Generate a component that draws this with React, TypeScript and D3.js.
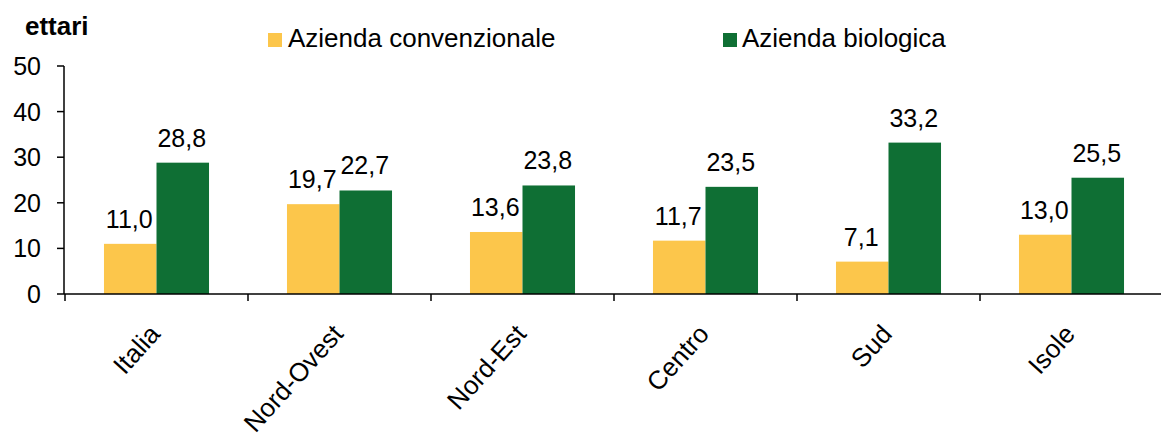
import React from 'react'
import * as d3 from 'd3'

const categories = ['Italia', 'Nord-Ovest', 'Nord-Est', 'Centro', 'Sud', 'Isole']
const seriesNames = ['Azienda convenzionale', 'Azienda biologica']
const convenzionale = [11.0, 19.7, 13.6, 11.7, 7.1, 13.0]
const biologica = [28.8, 22.7, 23.8, 23.5, 33.2, 25.5]
const yTicks = [0, 10, 20, 30, 40, 50]

const colors = ['#FCC64B', '#0F6F34']
const W = 1161
const H = 435
const font = '"Liberation Sans", Arial, sans-serif'

export default function App() {
  const x = d3.scaleBand<string>().domain(categories).range([65, 65 + 183 * 6])
    .paddingInner(0.426).paddingOuter(0.213)
  const xs = d3.scaleBand<string>().domain(seriesNames).range([0, x.bandwidth()])
  const y = d3.scaleLinear().domain([0, 50]).range([294, 66])
  const step = x.step()
  const values = [convenzionale, biologica]
  const fmt = (v: number) => d3.format('.1f')(v).replace('.', ',')

  return (
    <svg width={W} height={H} style={{ position: 'absolute', left: 0, top: 0, background: '#fff' }} fontFamily={font}>
      {/* bars + labels */}
      {seriesNames.map((s, si) => (
        <g key={s}>
          {categories.map((c, i) => {
            const bx = (x(c) as number) + (xs(s) as number)
            const v = values[si][i]
            return (
              <g key={c}>
                <rect x={bx} y={y(v)} width={xs.bandwidth()} height={y(0) - y(v)} fill={colors[si]} />
                <text x={bx + xs.bandwidth() / 2 - 1} y={y(v) - 16} textAnchor="middle" fontSize={25} fill="#000">
                  {fmt(v)}
                </text>
              </g>
            )
          })}
        </g>
      ))}

      {/* y axis */}
      <line x1={64} x2={64} y1={y(50)} y2={y(0)} stroke="#000" strokeWidth={1.5} />
      {yTicks.map(t => (
        <g key={t}>
          <line x1={57} x2={64} y1={y(t)} y2={y(t)} stroke="#000" strokeWidth={1.5} />
          <text x={41} y={y(t) + 9} textAnchor="end" fontSize={25}>{t}</text>
        </g>
      ))}

      {/* x axis */}
      <line x1={64} x2={W} y1={y(0)} y2={y(0)} stroke="#000" strokeWidth={1.5} />
      {d3.range(categories.length + 1).map(k => (
        <line key={k} x1={65 + k * step} x2={65 + k * step} y1={y(0)} y2={y(0) + 7} stroke="#000" strokeWidth={1.5} />
      ))}
      {categories.map(c => {
        const cx = (x(c) as number) + x.bandwidth() / 2 + 5
        return (
          <text key={c} transform={`translate(${cx},335) rotate(-48)`} textAnchor="end" fontSize={26}>{c}</text>
        )
      })}

      {/* unit */}
      <text x={25} y={35} fontSize={26} fontWeight="bold">ettari</text>

      {/* legend */}
      <rect x={268} y={33} width={14} height={14} fill={colors[0]} />
      <text x={288} y={47} fontSize={26}>{seriesNames[0]}</text>
      <rect x={723} y={33} width={14} height={14} fill={colors[1]} />
      <text x={742} y={47} fontSize={26}>{seriesNames[1]}</text>
    </svg>
  )
}
